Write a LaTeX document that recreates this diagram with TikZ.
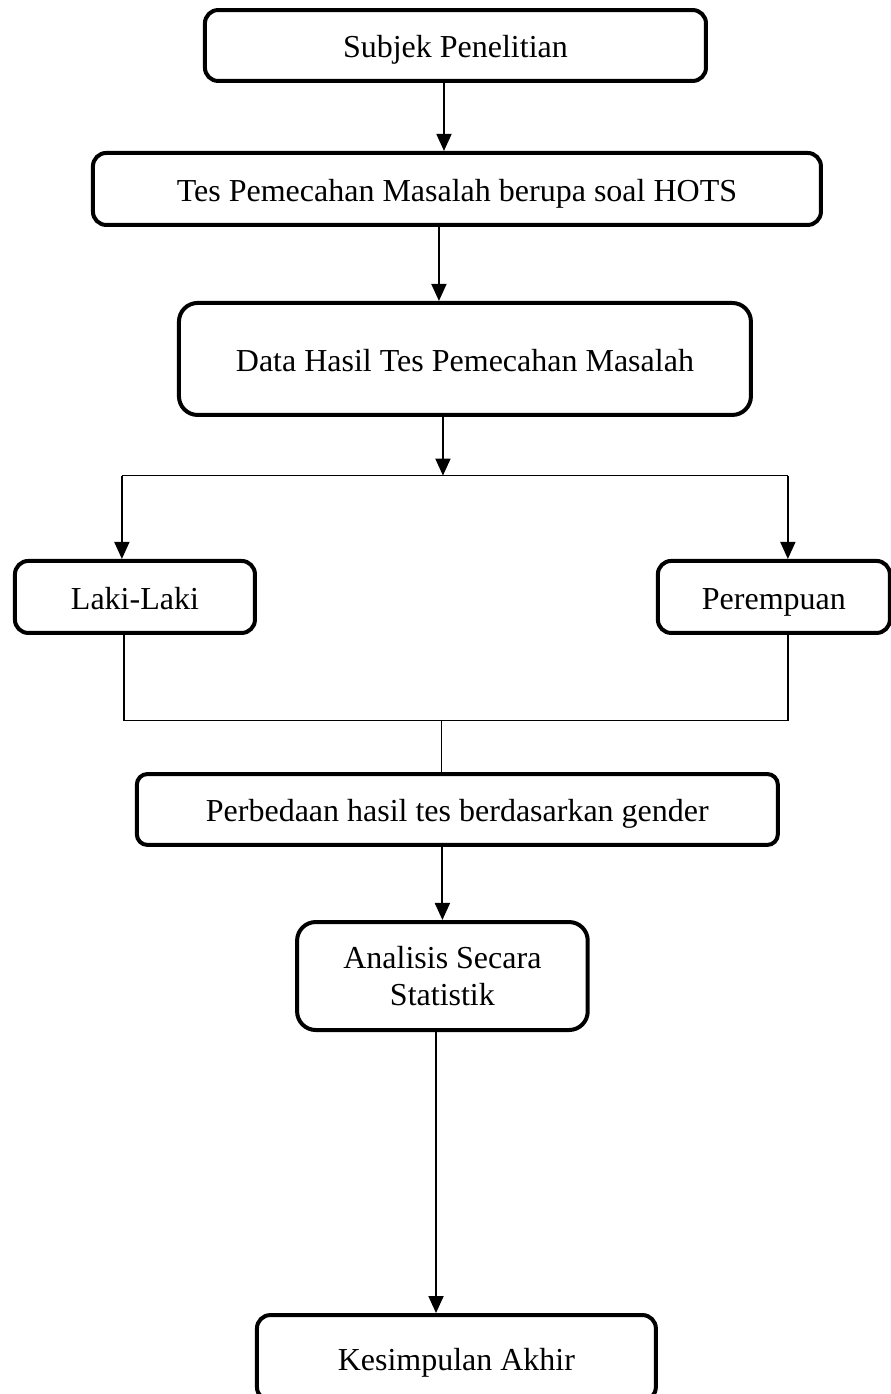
\documentclass[tikz,border=0pt]{standalone}
\usepackage{fontspec}
\setmainfont{Liberation Serif}
\usepackage{tikz}
\usetikzlibrary{positioning, arrows.meta}

\begin{document}
\begin{tikzpicture}[
    box/.style={rectangle, draw=black, line width=1.5pt, rounded corners=5pt, align=center, inner sep=2pt, font=\fontsize{12pt}{13.9pt}\selectfont},
    oneline/.style={text height=10.2pt, text depth=1pt},
    arrow/.style={-{Triangle[length=6.4pt, width=5.6pt]}, line width=0.8pt},
    line/.style={line width=0.55pt}
]
\useasboundingbox (-170.8pt,17.06pt) rectangle (163.3pt,-505.7pt);

% Nodes
\node[box, oneline, minimum width=187.9pt, minimum height=26.6pt] (subjek) at (0,0) {Subjek Penelitian};
\node[box, oneline, minimum width=273pt, minimum height=27pt, below=25.5pt of subjek, xshift=0.56pt] (tes) {Tes Pemecahan Masalah berupa soal HOTS};
\node[box, oneline, minimum width=214.5pt, minimum height=42pt, rounded corners=7pt, below=27.75pt of tes, xshift=3pt] (data) {Data Hasil Tes Pemecahan Masalah};
\node[box, oneline, minimum width=90pt, minimum height=27pt, below=53.25pt of data, xshift=-123.75pt] (laki) {Laki-Laki};
\node[box, oneline, minimum width=87pt, minimum height=27pt, right=149.6pt of laki] (perempuan) {Perempuan};
\node[box, oneline, minimum width=240.4pt, minimum height=26.6pt, rounded corners=4pt, below=51.4pt of laki, xshift=120.9pt] (beda) {Perbedaan hasil tes berdasarkan gender};
\node[box, minimum width=109pt, minimum height=40.5pt, rounded corners=7pt, below=27.4pt of beda, xshift=-5.6pt] (analisis) {Analisis Secara\\Statistik};
\node[box, oneline, minimum width=149.6pt, minimum height=32pt, below=105.4pt of analisis, xshift=5.25pt] (simpulan) {Kesimpulan Akhir};

% Branch points
\coordinate (split) at ([xshift=-8.25pt, yshift=-22pt]data.south);
\coordinate (lakiIn) at ([xshift=-4.9pt]laki.north);
\coordinate (perIn) at ([xshift=5.25pt]perempuan.north);
\coordinate (lakiOut) at ([xshift=-4.1pt]laki.south);
\coordinate (perOut) at ([xshift=5.25pt]perempuan.south);
\coordinate (merge) at ([yshift=-32pt]lakiOut);

% Arrows
\draw[arrow] ([xshift=-4.3pt]subjek.south) -- ([xshift=-4.3pt]subjek.south |- tes.north);
\draw[arrow] ([xshift=-6.75pt]tes.south) -- ([xshift=-6.75pt]tes.south |- data.north);
\draw[arrow] ([xshift=-8.25pt]data.south) -- (split);
\draw[line] (lakiIn |- split) -- (perIn |- split);
\draw[arrow] (lakiIn |- split) -- (lakiIn);
\draw[arrow] (perIn |- split) -- (perIn);
\draw[line] (lakiOut) -- (lakiOut |- merge) -- (perOut |- merge) -- (perOut);
\draw[line] ([xshift=-6pt]beda.north |- merge) -- ([xshift=-6pt]beda.north);
\draw[arrow] (beda.south -| analisis.north) -- (analisis.north);
\draw[arrow] ([xshift=-2.4pt]analisis.south) -- ([xshift=-2.4pt]analisis.south |- simpulan.north);

\end{tikzpicture}
\end{document}
